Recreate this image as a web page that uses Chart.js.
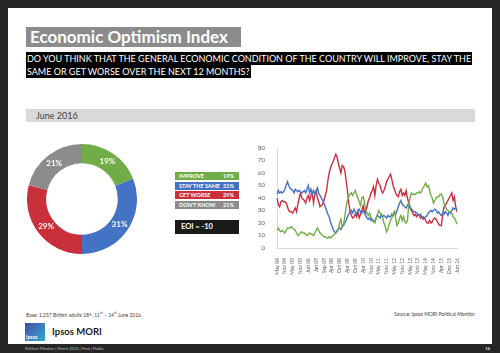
<!DOCTYPE html>
<html>
<head>
<meta charset="utf-8">
<script src="https://cdn.jsdelivr.net/npm/chart.js@4.4.1/dist/chart.umd.min.js"></script>
<style>
	body{margin:0;width:500px;height:353px;background:#262626;font-family:Lato, "Open Sans", sans-serif;overflow:hidden;}
	#slide{position:absolute;left:8px;top:8px;width:484px;height:336px;background:#fff;}
	.abs{position:absolute;white-space:nowrap;}
	#title{left:26px;top:27px;height:20px;width:215px;background:#8c8c8c;color:#fff;font-weight:bold;font-size:17px;line-height:20px;padding-left:4px;box-sizing:border-box;}
	.q{left:26px;background:#000;color:#fff;font-size:9px;line-height:13px;height:13px;padding:0 1px;}
	#band{left:26px;top:109px;width:449px;height:13px;background:#d9d9d9;color:#404040;font-size:9px;line-height:13px;padding-left:10px;box-sizing:border-box;}
	.leg{left:175px;width:64px;height:8px;color:#fff;font-weight:bold;font-size:5.5px;line-height:8px;}
	.leg span{position:absolute;}
	#eoi{left:175px;top:220px;width:64px;height:14px;background:#1a1a1a;color:#fff;font-weight:bold;font-size:7.5px;line-height:14px;padding-left:6px;box-sizing:border-box;}
	.note{top:311px;font-size:5px;color:#404040;}
</style>
</head>
<body>
<div id="slide"></div>
<div class="abs" id="title">Economic Optimism Index</div>
<div class="abs q" style="top:52px;">DO YOU THINK THAT THE GENERAL ECONOMIC CONDITION OF THE COUNTRY WILL IMPROVE, STAY THE</div>
<div class="abs q" style="top:65px;">SAME OR GET WORSE OVER THE NEXT 12 MONTHS?</div>
<div class="abs" id="band">June 2016</div>

<canvas id="donutChart" class="abs" style="left:27px;top:144px;" width="110" height="110"></canvas>
<div id="legendBox"></div>
<div class="abs" id="eoi"></div>

<canvas id="trendChart" class="abs" style="left:253px;top:140px;" width="212" height="135"></canvas>

<div class="abs note" style="left:26px;">Base: 1,257 British adults 18+, 11<sup style="font-size:3px">th</sup> &ndash; 14<sup style="font-size:3px">th</sup> June 2016</div>
<div class="abs note" style="right:25px;">Source: Ipsos MORI Political Monitor</div>
<div class="abs" style="left:25px;top:323px;width:20px;height:18px;background:linear-gradient(135deg,#3d4fa3 0%,#3f7fc0 55%,#2fb0b8 100%);"></div>
<div class="abs" style="left:26px;top:334px;color:#fff;font-size:5px;font-weight:bold;">Ipsos</div>
<div class="abs" style="left:52px;top:326px;color:#1a1a1a;font-size:9.5px;font-weight:bold;">Ipsos MORI</div>
<div class="abs" style="left:25px;top:346px;color:#bfbfbf;font-size:4px;">Political Monitor | March 2016 | Final | Public</div>
<div class="abs" style="left:485px;top:346px;color:#d9d9d9;font-size:4.5px;font-weight:bold;">16</div>

<script>
// June 2016 shares
var shareLabels = ["IMPROVE", "STAY THE SAME", "GET WORSE", "DON'T KNOW"];
var shareValues = [19, 31, 29, 21];
var shareColors = ["#70ad47", "#4472c4", "#c9303c", "#8c8c8c"];
var eoiValue = -10;

// trend, May 04 - Jun 16
var tickLabels = ["May 04","Nov 04","May 05","Nov 05","Jun 06","Jan 07","Sep 07","Apr 08","Oct 08","Apr 09","Oct 09","Apr 10",
	"Nov 10","May 11","Nov 11","May 12","Nov 12","May 13","Nov 13","May 14","Nov 14","Apr 15","Dec 15","Jun 16"];
var improveSeries = [
	14,16,14,13,14,13,12,14,16,16, 16,17,16,15,14,12,10,11,12,13,
	12,12,11,10,11,12,11,11,10,12, 14,16,14,12,11,10,9,9,8,8,
	9,8,9,10,11,12,13,15,20,23, 17,19,25,33,38,41,43,44,42,44,
	46,43,40,37,34,40,41,37,31,28, 26,28,25,22,21,20,24,27,30,28,
	26,24,20,17,13,15,19,22,24,27, 29,24,18,20,24,26,22,25,21,20,
	22,35,40,44,43,43,43,44,44,45, 44,46,48,50,52,49,50,46,42,40,
	36,38,40,41,41,43,43,41,36,33, 31,30,29,29,28,25,24,22,19];
var sameSeries = [
	43,46,44,45,44,45,47,50,53,50, 48,47,46,44,47,46,45,46,45,44,
	45,46,44,47,50,44,47,43,46,43, 45,48,44,42,40,38,36,33,30,27,
	25,21,18,15,13,12,14,15,16,15, 17,18,20,22,25,27,29,30,28,31,
	29,27,30,31,29,28,30,28,26,24, 23,24,22,23,22,21,24,26,25,24,
	27,25,26,25,24,26,25,25,27,26, 29,27,30,33,36,38,35,34,33,32,
	34,36,33,31,30,29,29,28,27,26, 27,25,25,24,25,26,28,29,30,29,
	30,31,30,28,29,27,26,28,27,29, 28,26,29,28,30,32,31,32,31];
var worseSeries = [
	40,35,33,37,38,37,37,36,33,30, 29,29,28,30,32,29,35,40,44,40,
	39,38,36,40,42,38,42,44,36,43, 46,40,37,33,34,35,38,42,46,54,
	60,64,67,69,72,75,73,68,64,60, 66,65,62,54,46,36,30,26,24,25,
	27,25,29,24,27,30,34,30,28,33, 38,40,44,46,49,42,50,55,52,50,
	46,44,46,49,53,55,57,59,55,50, 47,44,42,41,45,47,42,44,42,46,
	40,36,32,30,28,26,27,25,27,26, 24,25,23,24,22,20,20,22,20,21,
	23,24,23,21,19,18,18,26,33,34, 36,38,40,42,44,38,41,33,29];

// legend rows
var legendHTML = "";
for (var i=0; i<shareLabels.length; i++){
	var rowTop = 172 + i*9.7;
	legendHTML += '<div class="abs leg" style="top:'+rowTop+'px;background:'+shareColors[i]+';">';
	legendHTML += '<span style="left:4px;">'+shareLabels[i]+'</span>';
	legendHTML += '<span style="right:5px;">'+shareValues[i]+'%</span></div>';
}
document.getElementById("legendBox").innerHTML = legendHTML;
document.getElementById("eoi").innerHTML = "EOI = " + eoiValue;

var donutLabels = {
	id: "donutLabels",
	afterDatasetsDraw: function(chart){
		var ctx = chart.ctx;
		var meta = chart.getDatasetMeta(0);
		ctx.save();
		ctx.font = "bold 8px Lato";
		ctx.fillStyle = "#fff";
		ctx.textAlign = "center";
		ctx.textBaseline = "middle";
		for (var i=0; i<meta.data.length; i++){
			var p = meta.data[i].tooltipPosition();
			ctx.fillText(shareValues[i] + "%", p.x, p.y);
		}
		ctx.restore();
	}
};

new Chart(document.getElementById("donutChart"), {
	type: "doughnut",
	data: {
		labels: shareLabels,
		datasets: [{
			data: shareValues,
			backgroundColor: shareColors,
			borderWidth: 0
		}]
	},
	options: {
		responsive: false,
		animation: false,
		cutout: "65%",
		plugins: {legend: {display: false}, tooltip: {enabled: false}}
	},
	plugins: [donutLabels]
});

var pointLabels = [];
for (var i=0; i<improveSeries.length; i++){
	pointLabels.push(i % 6 == 0 ? tickLabels[i/6] : "");
}

function lineSet(name, values, color){
	return {label: name, data: values, borderColor: color, borderWidth: 1.4,
		pointRadius: 0, tension: 0, fill: false};
}

new Chart(document.getElementById("trendChart"), {
	type: "line",
	data: {
		labels: pointLabels,
		datasets: [
			lineSet("Improve", improveSeries, shareColors[0]),
			lineSet("Stay the same", sameSeries, shareColors[1]),
			lineSet("Get worse", worseSeries, shareColors[2])
		]
	},
	options: {
		responsive: false,
		animation: false,
		layout: {padding: {top: 8, right: 2}},
		plugins: {legend: {display: false}, tooltip: {enabled: false}},
		scales: {
			x: {
				grid: {display: false},
				border: {display: true, color: "#d9d9d9"},
				afterFit: function(s){ s.height = 27; },
				ticks: {autoSkip: false, minRotation: 90, maxRotation: 90, padding: 2,
					color: "#595959", font: {size: 5, family: "Lato"}}
			},
			y: {
				min: 0, max: 80,
				grid: {display: false},
				border: {display: true, color: "#d9d9d9"},
				afterFit: function(s){ s.width = 24; },
				ticks: {stepSize: 10, padding: 4, color: "#595959", font: {size: 6, family: "Lato"}}
			}
		}
	}
});
</script>
</body>
</html>
